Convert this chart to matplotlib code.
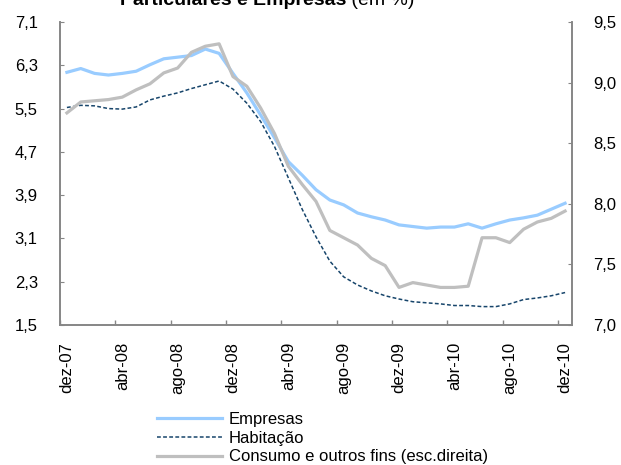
import matplotlib
matplotlib.use("Agg")
import matplotlib.pyplot as plt
from matplotlib.ticker import FixedLocator, FuncFormatter

plt.rcParams['font.family'] = ['Liberation Sans', 'DejaVu Sans']

categories = ["dez-07", "jan-08", "fev-08", "mar-08", "abr-08", "mai-08", "jun-08", "jul-08",
              "ago-08", "set-08", "out-08", "nov-08", "dez-08", "jan-09", "fev-09", "mar-09",
              "abr-09", "mai-09", "jun-09", "jul-09", "ago-09", "set-09", "out-09", "nov-09",
              "dez-09", "jan-10", "fev-10", "mar-10", "abr-10", "mai-10", "jun-10", "jul-10",
              "ago-10", "set-10", "out-10", "nov-10", "dez-10"]

empresas = [6.17, 6.24, 6.15, 6.12, 6.15, 6.19, 6.31, 6.42, 6.45, 6.48, 6.60, 6.52,
            6.15, 5.79, 5.38, 4.96, 4.52, 4.27, 4.00, 3.81, 3.72, 3.57, 3.50, 3.44,
            3.35, 3.32, 3.29, 3.31, 3.31, 3.37, 3.29, 3.37, 3.44, 3.48, 3.53, 3.64, 3.75]

habitacao = [5.52, 5.56, 5.55, 5.50, 5.49, 5.53, 5.66, 5.73, 5.79, 5.87, 5.94, 6.01,
             5.86, 5.60, 5.26, 4.80, 4.22, 3.64, 3.13, 2.68, 2.39, 2.24, 2.13, 2.04,
             1.98, 1.93, 1.91, 1.89, 1.86, 1.86, 1.84, 1.84, 1.89, 1.97, 2.00, 2.04, 2.10]

consumo = [8.75, 8.84, 8.85, 8.86, 8.88, 8.94, 8.99, 9.08, 9.12, 9.25, 9.30, 9.32,
           9.05, 8.97, 8.79, 8.58, 8.31, 8.16, 8.02, 7.78, 7.72, 7.66, 7.55, 7.49,
           7.31, 7.35, 7.33, 7.31, 7.31, 7.32, 7.72, 7.72, 7.68, 7.79, 7.85, 7.88, 7.94]

left_ticks = [1.5, 2.3, 3.1, 3.9, 4.7, 5.5, 6.3, 7.1]
right_ticks = [7.0, 7.5, 8.0, 8.5, 9.0, 9.5]
label_step = 4

series_names = ["Empresas", "Habitação", "Consumo e outros fins (esc.direita)"]
title_bold = "Particulares e Empresas"
title_normal = " (em %)"

W, H = 621, 465
fig = plt.figure(figsize=(W / 100, H / 100), dpi=100)
ax = fig.add_axes([60 / W, 1 - 325 / H, (572 - 60) / W, (325 - 22) / H])
ax2 = ax.twinx()

x = list(range(len(categories)))
spine_col = '#868686'
fs = 12

l1, = ax.plot(x, empresas, color='#99CCFF', lw=2.3, solid_joinstyle='round')
l2, = ax.plot(x, habitacao, color='#17456B', lw=1.1, dashes=(2.5, 1.5))
l3, = ax2.plot(x, consumo, color='#BFBFBF', lw=2.3, solid_joinstyle='round')

ax.set_xlim(-0.5, len(categories) - 0.5)
ax.set_ylim(left_ticks[0], left_ticks[-1])
ax2.set_ylim(right_ticks[0], right_ticks[-1])

comma = FuncFormatter(lambda v, p: f"{v:.1f}".replace('.', ','))
ax.yaxis.set_major_locator(FixedLocator(left_ticks))
ax.yaxis.set_major_formatter(comma)
ax2.yaxis.set_major_locator(FixedLocator(right_ticks))
ax2.yaxis.set_major_formatter(comma)

lab_pos = x[::label_step]
ax.set_xticks(lab_pos)
ax.set_xticklabels(categories[::label_step], rotation=90, fontsize=fs)
ax.set_xticks([p - 0.5 for p in lab_pos], minor=True)
ax.tick_params(axis='x', which='major', length=0, pad=12)
ax.tick_params(axis='x', which='minor', length=3.5, direction='in', color=spine_col, width=1)

ax.tick_params(axis='y', direction='in', length=3, color=spine_col, labelsize=fs, pad=16)
ax2.tick_params(axis='y', direction='in', length=3, color=spine_col, labelsize=fs, pad=15)

for a in (ax, ax2):
    a.spines['top'].set_visible(False)
    for s in ('left', 'right', 'bottom'):
        a.spines[s].set_color(spine_col)
        a.spines[s].set_linewidth(1.2)

fig.text(346 / W, 1 - 5 / H, title_bold, fontsize=14, fontweight='bold', ha='right', va='baseline')
fig.text(346 / W, 1 - 5 / H, title_normal, fontsize=14, ha='left', va='baseline')

fig.legend([l1, l2, l3], series_names, loc='upper left', bbox_to_anchor=(157 / W, 1 - 412 / H),
           frameon=False, fontsize=fs, handlelength=3.9, handletextpad=0.4, labelspacing=0.22,
           borderpad=0, borderaxespad=0)

fig.savefig("out.png", dpi=100)
